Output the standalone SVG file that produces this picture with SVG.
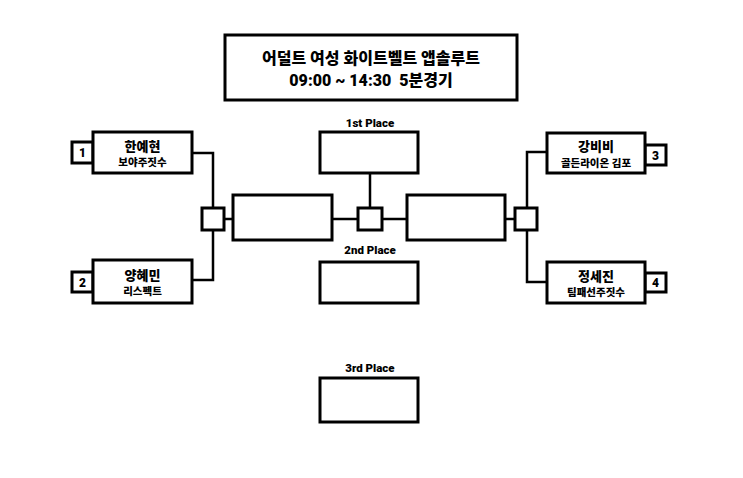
<svg xmlns="http://www.w3.org/2000/svg" width="743" height="478" viewBox="0 0 743 478">
<style>
.b{fill:#fff;stroke:#000;stroke-width:3}
.c{fill:none;stroke:#000;stroke-width:2.5}
text{font-family:Roboto,"Noto Sans CJK KR","Noto Sans",sans-serif;font-weight:900;fill:#000;text-anchor:middle;white-space:pre}
.t{font-size:16px}
.n{font-size:13px}
.s{font-size:10.5px}
.num{font-size:12px}
.p{font-size:11.5px}
</style>
<rect width="743" height="478" fill="#fff"/>
<g id="connectors">
<path class="c" d="M192,153 H213 V280 H192"/>
<path class="c" d="M224,219 H233 M332,219 H357 M370,208 V173 M382,219 H407 M505,219 H515"/>
<path class="c" d="M547,152 H527 V282 H547"/>
</g>
<g id="title">
<rect class="b" x="225" y="35" width="292" height="65"/>
<text class="t" x="371" y="64">어덜트 여성 화이트벨트 앱솔루트</text>
<text class="t" x="371" y="86" xml:space="preserve">09:00 ~ 14:30  5분경기</text>
</g>
<g id="p1">
<rect class="b" x="72" y="142" width="21" height="21"/>
<text class="num" x="82.5" y="157">1</text>
<rect class="b" x="93" y="132" width="99" height="41"/>
<text class="n" x="142.5" y="150.5">한예현</text>
<text class="s" x="142.5" y="166">보야주짓수</text>
</g>
<g id="p2">
<rect class="b" x="72" y="272" width="21" height="20"/>
<text class="num" x="82.5" y="286.5">2</text>
<rect class="b" x="93" y="260" width="99" height="43"/>
<text class="n" x="142.5" y="279.5">양혜민</text>
<text class="s" x="142.5" y="295">리스펙트</text>
</g>
<g id="p3">
<rect class="b" x="645" y="145" width="21" height="20"/>
<text class="num" x="655.5" y="159.5">3</text>
<rect class="b" x="547" y="133" width="98" height="40"/>
<text class="n" x="596" y="151">강비비</text>
<text class="s" x="596" y="166.5">골든라이온 김포</text>
</g>
<g id="p4">
<rect class="b" x="645" y="273" width="21" height="19"/>
<text class="num" x="655.5" y="287">4</text>
<rect class="b" x="547" y="262" width="98" height="41"/>
<text class="n" x="596" y="280.5">정세진</text>
<text class="s" x="596" y="296">팀패선주짓수</text>
</g>
<g id="sq-left"><rect class="b" x="202" y="208" width="22" height="22"/></g>
<g id="semi-left"><rect class="b" x="233" y="195" width="99" height="45"/></g>
<g id="sq-center"><rect class="b" x="358" y="208" width="24" height="22"/></g>
<g id="semi-right"><rect class="b" x="407" y="195" width="98" height="45"/></g>
<g id="sq-right"><rect class="b" x="515" y="208" width="22" height="22"/></g>
<g id="first">
<text class="p" x="370" y="127">1st Place</text>
<rect class="b" x="320" y="132" width="98" height="41"/>
</g>
<g id="second">
<text class="p" x="370" y="254">2nd Place</text>
<rect class="b" x="320" y="262" width="98" height="41"/>
</g>
<g id="third">
<text class="p" x="370" y="372">3rd Place</text>
<rect class="b" x="320" y="378" width="98" height="44"/>
</g>
</svg>
